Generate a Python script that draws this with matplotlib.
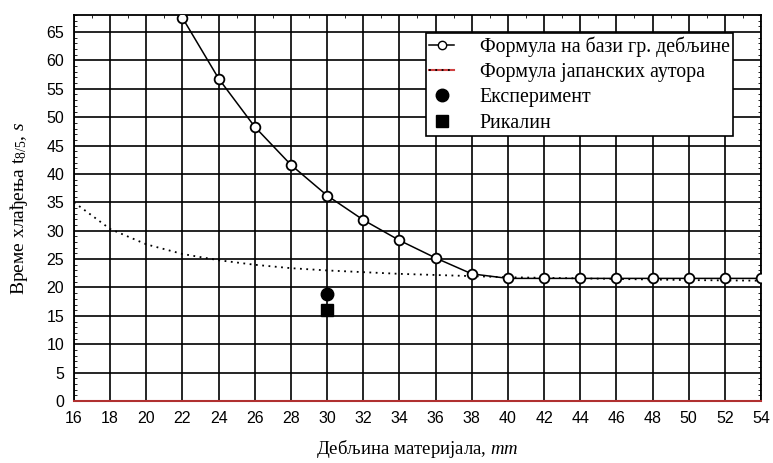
import matplotlib.pyplot as plt
from matplotlib.ticker import MultipleLocator
from matplotlib.lines import Line2D
import numpy as np

# debljina materijala, mm
x_gr = [22, 24, 26, 28, 30, 32, 34, 36, 38, 40, 42, 44, 46, 48, 50, 52, 54]
t_gr = [67.5, 56.8, 48.3, 41.6, 36.2, 31.9, 28.3, 25.2, 22.4, 21.6, 21.6,
        21.6, 21.6, 21.6, 21.6, 21.6, 21.6]

x_jap = [16, 18, 20, 22, 24, 26, 28, 30, 32, 34, 36, 38, 40, 42, 44, 46, 48, 50, 52, 54]
t_jap = [35.0, 30.3, 27.6, 25.9, 24.8, 24.0, 23.4, 23.0, 22.7, 22.4, 22.2,
         22.0, 21.8, 21.7, 21.6, 21.5, 21.4, 21.3, 21.25, 21.2]

x_exp = [30]
t_exp = [18.8]
x_rik = [30]
t_rik = [16.0]

x_ticks = list(range(16, 55, 2))
y_ticks = list(range(0, 66, 5))

plt.rcParams['font.family'] = ['Liberation Sans', 'DejaVu Sans']
plt.rcParams['mathtext.fontset'] = 'custom'
plt.rcParams['mathtext.it'] = 'Liberation Serif:italic'
plt.rcParams['mathtext.rm'] = 'Liberation Serif'
serif = ['Liberation Serif', 'DejaVu Serif']

fig = plt.figure(figsize=(7.73, 4.63), dpi=100)
ax = fig.add_axes([74/773, 1-401/463, 687/773, 386/463])

# grid
for xv in x_ticks:
    ax.axvline(xv, color='k', lw=1.2, zorder=1)
for yv in y_ticks:
    ax.axhline(yv, color='k', lw=1.2, zorder=1)

ax.plot(x_jap, t_jap, ls=(0, (1, 2.5)), color='k', lw=1.3, zorder=3)
ax.plot([16, 54], [0, 0], color='#b03030', lw=1.5, zorder=4, clip_on=False)
ax.plot(x_gr, t_gr, '-o', color='k', lw=1.1, ms=7, mfc='white', mec='k',
        mew=1.3, zorder=5)
ax.plot(x_exp, t_exp, 'o', color='k', ms=9, zorder=6)
ax.plot(x_rik, t_rik, 's', color='k', ms=9, zorder=6)

ax.set_xlim(16, 54)
ax.set_ylim(0, 68)
ax.set_xticks(x_ticks)
ax.set_yticks(y_ticks)
ax.xaxis.set_minor_locator(MultipleLocator(1))
ax.yaxis.set_minor_locator(MultipleLocator(1))
ax.tick_params(which='major', length=0, labelsize=11.5, pad=7)
ax.tick_params(which='minor', direction='in', length=2, top=True, right=True,
               bottom=False)
for s in ax.spines.values():
    s.set_linewidth(1.3)
ax.spines['bottom'].set_color('#5a2020')

ax.set_xlabel('Дебљина материјала, $mm$', family=serif, fontsize=13.5, labelpad=9)
ax.set_ylabel('Време хлађења t$_{8/5}$, $s$', family=serif, fontsize=14, labelpad=12)

h1 = Line2D([], [], color='k', marker='o', mfc='white', ms=6, lw=1.1)
h2a = Line2D([], [], color='#d04040', lw=1.5)
h2b = Line2D([], [], color='k', ls=(0, (1, 2.5)), lw=1.3)
h3 = Line2D([], [], color='k', marker='o', ls='none', ms=9)
h4 = Line2D([], [], color='k', marker='s', ls='none', ms=8)
leg = ax.legend([h1, (h2a, h2b), h3, h4],
                ['Формула на бази гр. дебљине', 'Формула јапанских аутора',
                 'Експеримент', 'Рикалин'],
                loc='upper right', bbox_to_anchor=(0.959, 0.953),
                borderaxespad=0,
                prop={'family': serif, 'size': 14.3}, fancybox=False,
                edgecolor='k', framealpha=1, handlelength=1.25,
                handletextpad=1.3, labelspacing=0.32, borderpad=0.15)
leg.get_frame().set_linewidth(1.2)
leg.set_zorder(10)

fig.savefig('out.png', dpi=100)
